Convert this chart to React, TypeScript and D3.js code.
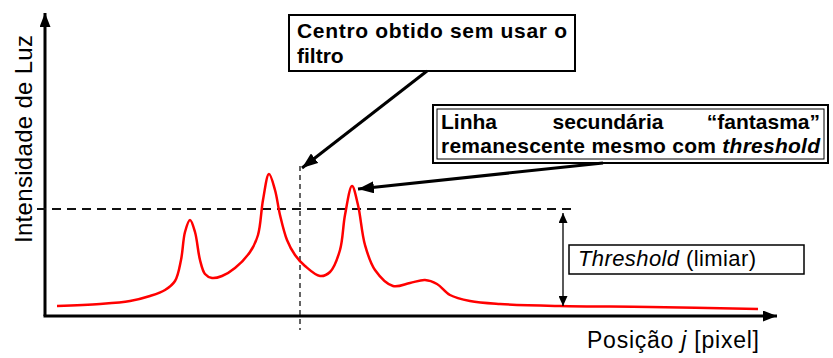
import React, { useEffect, useRef } from "react";
import * as d3 from "d3";

// perfil de intensidade (posição j, intensidade)
const posJ = [12, 55, 85, 105, 120, 130, 136, 140, 145, 150, 155, 160, 167, 177, 190, 205, 213, 218, 224, 230, 235, 242, 250, 260, 275, 285, 295, 300, 307, 313, 320, 330, 348, 365, 380, 392, 405, 425, 455, 515, 605, 713];
const intensidade = [10, 12, 15, 20, 26, 35, 56, 84, 96, 84, 56, 42, 38, 40, 48, 64, 81, 116, 142, 126, 101, 76, 61, 50, 40, 44, 66, 101, 130, 111, 71, 46, 30, 33, 36, 32, 21, 15, 12, 10, 9, 7];

const threshold = 107;
const centroSemFiltro = 255;
const picoFantasma = { j: 307, v: 130 };

const W = 833;
const H = 358;

function App() {
  const ref = useRef<SVGSVGElement>(null);

  useEffect(() => {
    const svg = d3.select(ref.current);
    svg.selectAll("*").remove();

    const x = d3.scaleLinear().domain([0, 732]).range([45, 777]);
    const y = d3.scaleLinear().domain([0, 303]).range([316, 13]);

    const defs = svg.append("defs");
    const mk = (id: string, w: number, h: number) =>
      defs.append("marker")
        .attr("id", id)
        .attr("viewBox", `0 0 ${w} ${h}`)
        .attr("refX", w)
        .attr("refY", h / 2)
        .attr("markerWidth", w)
        .attr("markerHeight", h)
        .attr("markerUnits", "userSpaceOnUse")
        .attr("orient", "auto-start-reverse")
        .append("path")
        .attr("d", `M0,0L${w},${h / 2}L0,${h}Z`)
        .attr("fill", "#000");
    mk("big", 16, 12);
    mk("axis", 14, 11);
    mk("small", 10, 9);

    const g = svg.append("g").attr("font-family", "'Liberation Sans', Arial, sans-serif");

    // eixos
    g.append("line").attr("x1", x(0)).attr("y1", y(0)).attr("x2", x(0)).attr("y2", y(303))
      .attr("stroke", "#000").attr("stroke-width", 3).attr("marker-end", "url(#axis)");
    g.append("line").attr("x1", x(0) - 1.5).attr("y1", y(0)).attr("x2", x(732)).attr("y2", y(0))
      .attr("stroke", "#000").attr("stroke-width", 3).attr("marker-end", "url(#axis)");

    // linha do threshold
    g.append("line").attr("x1", x(0) - 8).attr("x2", x(530)).attr("y1", y(threshold)).attr("y2", y(threshold))
      .attr("stroke", "#111").attr("stroke-width", 2).attr("stroke-dasharray", "9,6");

    // centro sem filtro
    g.append("line").attr("x1", x(centroSemFiltro)).attr("x2", x(centroSemFiltro)).attr("y1", y(150)).attr("y2", y(-14))
      .attr("stroke", "#111").attr("stroke-width", 1.3).attr("stroke-dasharray", "5,4");

    // curva
    const line = d3.line<number>()
      .x((_, i) => x(posJ[i]))
      .y((d) => y(d))
      .curve(d3.curveCatmullRom.alpha(0.5));
    g.append("path").attr("d", line(intensidade)).attr("fill", "none")
      .attr("stroke", "#ff0000").attr("stroke-width", 2.5);

    // seta threshold
    g.append("line").attr("x1", x(518)).attr("x2", x(518)).attr("y1", y(threshold) + 4).attr("y2", y(10))
      .attr("stroke", "#000").attr("stroke-width", 1.3)
      .attr("marker-start", "url(#small)").attr("marker-end", "url(#small)");

    // caixa 1
    g.append("rect").attr("x", 289).attr("y", 15).attr("width", 286).attr("height", 56)
      .attr("fill", "#fff").attr("stroke", "#000").attr("stroke-width", 2);
    g.append("text").attr("x", 297).attr("y", 38).attr("font-size", 21).attr("font-weight", "bold")
      .attr("textLength", 270).attr("lengthAdjust", "spacing").text("Centro obtido sem usar o");
    g.append("text").attr("x", 297).attr("y", 63).attr("font-size", 21).attr("font-weight", "bold").text("filtro");
    g.append("line").attr("x1", 427).attr("y1", 71).attr("x2", x(centroSemFiltro) + 2).attr("y2", y(148))
      .attr("stroke", "#000").attr("stroke-width", 3).attr("marker-end", "url(#big)");

    // caixa 2
    g.append("rect").attr("x", 433).attr("y", 105).attr("width", 395).attr("height", 58)
      .attr("fill", "#fff").attr("stroke", "#000").attr("stroke-width", 2);
    g.append("rect").attr("x", 437).attr("y", 109).attr("width", 387).attr("height", 50)
      .attr("fill", "none").attr("stroke", "#000").attr("stroke-width", 1);
    const l1 = g.append("text").attr("y", 129).attr("font-size", 21).attr("font-weight", "bold");
    l1.append("tspan").attr("x", 441).text("Linha");
    l1.append("tspan").attr("x", 608).attr("text-anchor", "middle").text("secundária");
    l1.append("tspan").attr("x", 820).attr("text-anchor", "end").text("\u201cfantasma\u201d");
    const l2 = g.append("text").attr("x", 441).attr("y", 153).attr("font-size", 21).attr("font-weight", "bold")
      .attr("textLength", 379).attr("lengthAdjust", "spacing");
    l2.append("tspan").text("remanescente mesmo com ");
    l2.append("tspan").attr("font-style", "italic").text("threshold");
    g.append("line").attr("x1", 603).attr("y1", 163).attr("x2", x(picoFantasma.j) + 6).attr("y2", y(picoFantasma.v) + 3)
      .attr("stroke", "#000").attr("stroke-width", 3).attr("marker-end", "url(#big)");

    // caixa threshold
    g.append("rect").attr("x", 569).attr("y", 245).attr("width", 235).attr("height", 29)
      .attr("fill", "#fff").attr("stroke", "#000").attr("stroke-width", 1.5);
    const t = g.append("text").attr("x", 578).attr("y", 266).attr("font-size", 22)
      .attr("textLength", 178).attr("lengthAdjust", "spacing");
    t.append("tspan").attr("font-style", "italic").text("Threshold");
    t.append("tspan").text(" (limiar)");

    // rótulos dos eixos
    const xl = g.append("text").attr("x", 587).attr("y", 348).attr("font-size", 23)
      .attr("textLength", 172).attr("lengthAdjust", "spacing");
    xl.append("tspan").text("Posição ");
    xl.append("tspan").attr("font-style", "italic").text("j");
    xl.append("tspan").text(" [pixel]");

    g.append("text").attr("transform", "translate(32,139) rotate(-90)").attr("text-anchor", "middle")
      .attr("font-size", 24).attr("textLength", 208).attr("lengthAdjust", "spacing")
      .text("Intensidade de Luz");
  }, []);

  return <svg ref={ref} width={W} height={H} style={{ display: "block", position: "absolute", left: 0, top: 0, background: "#fff" }} />;
}

export default App;
